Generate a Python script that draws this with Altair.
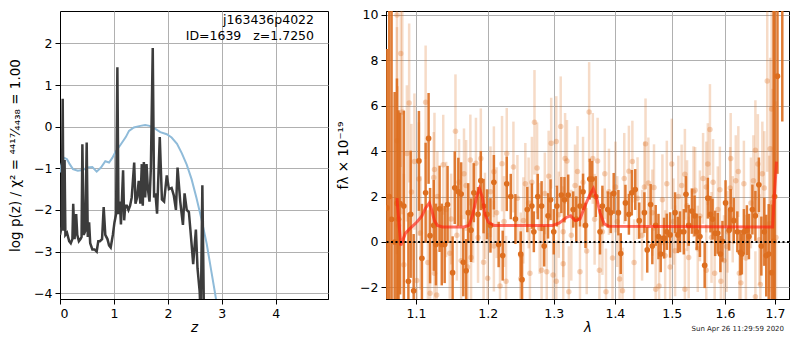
import altair as alt
import pandas as pd

FONT = "DejaVu Sans"
ORANGE = "#dd6e1f"

# ---------------- left panel: redshift PDF ----------------
pz_z = [0.00, 0.03, 0.05, 0.065, 0.085, 0.10, 0.13, 0.17, 0.20, 0.23,
        0.245, 0.27, 0.30, 0.32, 0.35, 0.38, 0.40, 0.415, 0.44, 0.47,
        0.495, 0.515, 0.54, 0.56, 0.60, 0.64, 0.68, 0.71, 0.74, 0.78,
        0.81, 0.84, 0.88, 0.91, 0.94, 0.98, 1.01, 1.04, 1.064, 1.085,
        1.11, 1.13, 1.17, 1.19, 1.21, 1.24, 1.27, 1.30, 1.33, 1.376,
        1.40, 1.43, 1.46, 1.49, 1.517, 1.535, 1.555, 1.58, 1.605, 1.63,
        1.66, 1.685, 1.72, 1.745, 1.77, 1.80, 1.85, 1.89, 1.93, 1.98,
        2.02, 2.07, 2.11, 2.15, 2.18, 2.23, 2.28, 2.31, 2.35, 2.39,
        2.43, 2.47, 2.52, 2.55, 2.59, 2.61, 2.64, 2.67]
pz_logp = [-2.6, -2.4, 0.67, -2.5, -0.8, -2.6, -2.55, -2.75, -2.8, -2.7,
           -1.85, -2.7, -2.1, -2.6, -2.75, -2.7, -2.65, -0.42, -2.6, -2.5,
           -0.38, -2.65, -2.3, -2.8, -2.95, -2.95, -3.0, -2.75, -2.75, -2.7,
           -1.93, -2.6, -2.7, -2.85, -2.9, -2.6, -2.3, -2.1, 1.43, -2.1,
           -1.8, -2.35, -1.05, -2.25, -1.9, -1.9, -2.0, -1.9, -1.7, -0.86,
           -1.85, -1.7, -1.3, -1.85, -0.9, -1.9, -0.85, -1.7, -0.9, -1.5,
           -1.8, -1.0, 1.89, -1.7, -1.6, -2.09, -0.25, -1.75, -1.8, -1.17,
           -1.5, -1.47, -1.65, -2.0, -0.98, -1.8, -2.36, -1.6, -2.0, -2.05,
           -2.66, -3.3, -2.47, -3.4, -3.96, -4.6, -1.41, -4.6]

chi_z = [0.0, 0.01, 0.05, 0.085, 0.13, 0.18, 0.24, 0.33, 0.42, 0.51,
         0.60, 0.68, 0.76, 0.84, 0.91, 0.97, 1.03, 1.12, 1.22, 1.28,
         1.37, 1.49, 1.58, 1.66, 1.74, 1.86, 1.98, 2.07, 2.17, 2.26,
         2.35, 2.44, 2.53, 2.62, 2.72, 2.81, 2.87, 2.95]
chi_val = [-1.1, -0.98, -0.8, -0.75, -0.78, -0.9, -1.02, -1.06, -1.04, -0.98,
           -0.97, -1.08, -0.98, -0.83, -0.86, -0.75, -0.6, -0.44, -0.25, -0.1,
           -0.02, 0.02, 0.04, 0.02, -0.03, -0.13, -0.18, -0.26, -0.41, -0.64,
           -0.91, -1.26, -1.71, -2.2, -2.81, -3.5, -3.96, -4.6]

z_ticks = [0, 1, 2, 3, 4]
logp_ticks = [-4, -3, -2, -1, 0, 1, 2]
annot_text = "j163436p4022\nID=1639\u00a0\u00a0\u00a0z=1.7250"

# ---------------- right panel: spectrum ----------------
dark_wave = [1.062, 1.065, 1.068, 1.072, 1.075, 1.077, 1.079, 1.084, 1.090, 1.093,
             1.097, 1.104, 1.108, 1.113, 1.117, 1.119, 1.124, 1.127, 1.132, 1.135,
             1.139, 1.143, 1.150, 1.153, 1.158, 1.162, 1.165, 1.169, 1.172, 1.176,
             1.180, 1.186, 1.190, 1.194, 1.199, 1.204, 1.209, 1.216, 1.222, 1.228,
             1.234, 1.241, 1.249, 1.251, 1.259, 1.266, 1.269, 1.275, 1.281, 1.285,
             1.291, 1.295, 1.300, 1.305, 1.312, 1.317, 1.323, 1.331, 1.336, 1.342,
             1.347, 1.351, 1.358, 1.362, 1.368, 1.375, 1.379, 1.388, 1.393, 1.398,
             1.406, 1.410, 1.418, 1.424, 1.429, 1.435, 1.442, 1.451, 1.456, 1.462,
             1.465, 1.471, 1.476, 1.480, 1.486, 1.491, 1.497, 1.506, 1.511, 1.515,
             1.522, 1.526, 1.531, 1.537, 1.542, 1.546, 1.552, 1.561, 1.567, 1.572,
             1.576, 1.581, 1.586, 1.591, 1.595, 1.601, 1.608, 1.611, 1.617, 1.624,
             1.630, 1.633, 1.637, 1.643, 1.647, 1.654, 1.660, 1.667, 1.672, 1.678,
             1.682, 1.687, 1.693, 1.697, 1.699, 1.705, 1.715]
dark_flux = [1.5, 2.0, 1.0, 0.0, 1.7, 1.0, 1.69, 1.58, -1.73, 1.22,
             -2.15, 3.57, -0.72, 2.17, 4.56, 0.28, 0.73, -0.11, 1.46, -0.11,
             -0.11, 1.65, -1.35, 2.39, 2.21, 2.11, -0.89, -1.27, 1.29, 0.52,
             2.17, 1.22, 2.70, 1.58, 1.22, 0.73, 2.63, -0.11, -0.60, 2.56,
             2.0, 1.01, -0.53, -1.66, 1.43, 1.58, 0.45, 2.0, 1.58, -0.18,
             1.15, 1.86, 0.45, 1.58, 2.07, 1.86, 2.07, 1.43, 1.01, 1.58,
             2.21, 0.73, 2.77, 2.77, 2.0, 0.45, 1.58, 1.43, 1.29, 2.14,
             1.29, -0.51, 1.72, 1.22, 2.17, 2.31, 0.94, 1.29, -0.35, 1.65,
             -0.18, 0.73, 0.24, -0.53, 0.17, 0.45, 0.31, 1.29, 0.31, 0.45,
             0.45, 2.10, 0.73, 1.36, 1.15, 0.45, 0.24, -1.03, 1.93, 1.22,
             1.01, 0.38, 0.38, -0.53, 0.03, 1.72, 0.52, 1.43, 0.94, 0.45,
             -0.46, -0.53, 0.45, 0.52, 0.24, 1.43, 1.15, 2.52, -0.18, 0.45,
             -0.60, -0.53, -1.35, 0.03, 2.0, 7.3, 12.0]
dark_err = [7.0, 10.0, 10.0, 6.6, 5.5, 4.8, 4.0, 4.2, 3.0, 2.8,
            2.5, 2.2, 2.4, 2.2, 2.0, 2.1, 2.0, 1.8, 1.9, 1.8,
            1.7, 1.7, 1.6, 1.6, 1.5, 1.4, 1.5, 1.4, 1.3, 1.4,
            1.3, 1.2, 1.3, 1.2, 1.1, 1.2, 1.2, 1.0, 1.1, 1.2,
            1.0, 1.1, 1.0, 1.1, 1.0, 1.0, 0.9, 1.0, 1.1, 0.9,
            1.0, 0.9, 1.0, 0.9, 0.8, 1.0, 0.9, 0.8, 1.0, 0.9,
            0.8, 1.0, 0.9, 0.8, 0.9, 1.0, 0.9, 0.8, 0.9, 0.9,
            1.0, 0.9, 0.8, 0.9, 1.0, 0.9, 0.8, 0.9, 1.0, 0.9,
            0.8, 0.9, 1.0, 0.8, 0.9, 0.8, 1.0, 0.9, 0.8, 0.9,
            1.0, 0.8, 0.9, 1.0, 0.9, 0.8, 0.9, 1.0, 0.9, 0.8,
            0.9, 1.0, 0.9, 0.8, 0.9, 1.0, 0.9, 0.9, 1.0, 0.9,
            1.0, 0.9, 1.0, 1.1, 1.0, 1.1, 1.1, 1.2, 1.3, 1.5,
            1.8, 2.2, 3.0, 12.0, 12.0, 4.3, 6.7]

light_wave = [1.075, 1.080, 1.075, 1.082, 1.091, 1.113, 1.088, 1.098, 1.077, 1.125,
              1.124, 1.154, 1.175, 1.190, 1.183, 1.209, 1.221, 1.228, 1.209, 1.194,
              1.171, 1.125, 1.101, 1.119, 1.128, 1.162, 1.176, 1.218, 1.227, 1.249,
              1.076, 1.104, 1.129, 1.141, 1.148, 1.159, 1.169, 1.179, 1.196, 1.204,
              1.213, 1.244, 1.270, 1.296, 1.304, 1.311, 1.318, 1.321, 1.357, 1.363,
              1.371, 1.274, 1.256, 1.266, 1.324, 1.385, 1.342, 1.374, 1.263, 1.281,
              1.289, 1.304, 1.315, 1.299, 1.408, 1.413, 1.453, 1.430, 1.424, 1.249,
              1.261, 1.334, 1.347, 1.390, 1.401, 1.439, 1.451, 1.379, 1.315, 1.286,
              1.500, 1.491, 1.524, 1.518, 1.540, 1.543, 1.571, 1.567, 1.564, 1.577,
              1.611, 1.610, 1.621, 1.637, 1.660, 1.665, 1.678, 1.684, 1.693, 1.690,
              1.695, 1.702, 1.471, 1.477, 1.497, 1.524, 1.564, 1.580, 1.592, 1.628,
              1.660, 1.670, 1.631, 1.531, 1.598, 1.465, 1.483, 1.512, 1.552, 1.586,
              1.651, 1.605, 1.506, 1.253, 1.278, 1.292, 1.308, 1.328, 1.338, 1.353,
              1.366, 1.383, 1.396, 1.404, 1.416, 1.433, 1.447, 1.458, 1.106, 1.116,
              1.137, 1.146, 1.156, 1.166, 1.186, 1.200, 1.224, 1.238, 1.094, 1.084,
              1.468, 1.488, 1.503, 1.528, 1.548, 1.558, 1.574, 1.590, 1.603, 1.615,
              1.626, 1.641, 1.656, 1.668, 1.674, 1.688]
light_flux = [9.99, 8.30, 4.46, 5.72, 6.12, 6.15, 3.90, 3.54, 0.73, 3.19,
              2.84, 4.88, 3.61, 3.68, 3.47, 3.09, 3.45, 3.90, -0.18, -0.89,
              -1.10, -1.38, -1.70, -2.26, -2.33, -0.82, -0.68, -1.94, -1.73, -1.62,
              1.86, 2.77, 2.00, 1.43, 1.01, 2.63, 2.49, 1.29, 1.15, 2.21,
              1.29, 1.93, 5.27, 4.35, 4.42, 5.09, 3.68, 3.57, 5.72, 3.68,
              3.57, 3.26, 2.56, 2.63, -2.19, -2.19, -1.31, -1.24, -1.38, -1.24,
              -1.31, -1.73, -0.96, -1.45, -1.63, -2.15, 4.32, 3.54, 3.12, -0.60,
              1.72, 2.49, 2.63, 2.21, 2.42, 1.93, 2.42, 0.45, 0.45, 2.14,
              3.43, 2.56, 2.98, 2.49, 2.21, 2.28, 4.95, 3.43, 2.42, 2.63,
              3.68, 2.38, 2.70, 2.56, 4.04, 3.43, 2.38, 7.09, 5.86, 4.11,
              1.74, 0.20, -2.08, -1.94, -1.10, -2.08, -1.24, -1.38, -1.73, -1.38,
              -2.41, -1.87, -1.80, -0.68, -0.82, 1.29, 1.86, 2.00, 1.15, 1.43,
              1.72, 0.45, -0.39, 0.95, 0.60, 2.90, 1.20, 0.30, 3.10, -0.40,
              1.00, 3.00, -0.70, 0.90, 2.80, -0.90, 0.30, 2.60, 0.40, -0.90,
              3.40, -0.50, 0.30, 3.00, 0.20, -1.60, 0.90, 3.30, 2.20, -1.00,
              2.40, -0.60, 0.90, 1.60, -0.30, 2.80, 0.20, 2.30, -0.20, 1.00,
              3.10, -0.70, 2.70, 0.10, 3.00, 0.80]
light_err = [6.0, 5.0, 5.0, 4.5, 3.5, 2.5, 3.0, 3.0, 5.0, 2.5,
             2.0, 2.5, 2.0, 2.2, 2.0, 2.0, 2.1, 2.0, 2.0, 2.0,
             2.0, 2.2, 2.5, 2.2, 2.0, 2.0, 2.0, 2.0, 2.0, 2.0,
             5.0, 2.5, 2.0, 2.1, 2.0, 1.9, 2.0, 2.2, 1.9, 2.0,
             2.0, 1.9, 2.3, 2.0, 2.0, 2.2, 2.0, 1.8, 2.2, 2.0,
             1.9, 2.0, 1.8, 2.0, 2.0, 1.9, 2.0, 1.8, 2.0, 1.9,
             2.0, 1.8, 2.0, 1.9, 2.0, 1.9, 2.0, 1.8, 2.0, 1.9,
             2.0, 1.8, 2.0, 1.9, 2.0, 1.8, 2.0, 1.9, 2.0, 1.8,
             2.0, 1.9, 2.0, 1.8, 2.0, 1.9, 2.0, 1.8, 2.0, 1.9,
             2.0, 1.8, 2.0, 1.9, 2.2, 2.2, 2.5, 4.0, 5.0, 4.0,
             5.0, 6.0, 2.0, 1.9, 2.0, 1.8, 2.0, 1.9, 2.0, 1.8,
             2.0, 1.9, 2.0, 1.8, 2.0, 1.9, 2.0, 1.8, 2.0, 1.9,
             2.0, 1.8, 2.0, 1.9, 2.0, 2.0, 1.9, 2.0, 2.0, 1.9,
             2.0, 2.0, 1.9, 2.0, 2.0, 1.9, 2.0, 2.0, 2.5, 2.3,
             2.2, 2.0, 2.0, 2.0, 2.0, 2.0, 2.0, 2.0, 3.0, 4.0,
             1.9, 2.0, 1.9, 2.0, 1.9, 2.0, 2.0, 1.9, 2.0, 1.9,
             2.0, 1.9, 2.0, 2.0, 2.3, 3.0]

model_wave = [1.075, 1.080, 1.086, 1.092, 1.101, 1.108, 1.113, 1.118, 1.121, 1.125,
              1.129, 1.136, 1.166, 1.173, 1.178, 1.184, 1.188, 1.192, 1.196, 1.201,
              1.209, 1.298, 1.309, 1.320, 1.327, 1.334, 1.342, 1.350, 1.358, 1.364,
              1.370, 1.375, 1.382, 1.390, 1.695, 1.697, 1.703]
model_flux = [1.93, -0.15, 0.38, 0.59, 0.87, 1.15, 1.5, 1.72, 1.43, 0.94,
              0.73, 0.66, 0.66, 0.73, 1.15, 2.0, 2.35, 2.0, 1.22, 0.87,
              0.73, 0.73, 0.84, 1.08, 1.15, 0.94, 1.01, 1.58, 2.07, 2.35,
              1.86, 1.29, 0.80, 0.69, 0.66, 1.5, 3.54]

wave_ticks = [1.1, 1.2, 1.3, 1.4, 1.5, 1.6, 1.7]
flux_ticks = [-2, 0, 2, 4, 6, 8, 10]
timestamp = "Sun Apr 26 11:29:59 2020"

# ---------------- build tables ----------------
pz_df = pd.DataFrame({"z": pz_z, "v": pz_logp})
chi_df = pd.DataFrame({"z": chi_z, "v": chi_val})
dark_df = pd.DataFrame({"w": dark_wave, "f": dark_flux, "e": dark_err})
dark_df["lo"] = dark_df["f"] - dark_df["e"]
dark_df["hi"] = dark_df["f"] + dark_df["e"]
light_df = pd.DataFrame({"w": light_wave, "f": light_flux, "e": light_err})
light_df["lo"] = light_df["f"] - light_df["e"]
light_df["hi"] = light_df["f"] + light_df["e"]
model_df = pd.DataFrame({"w": model_wave, "f": model_flux})

H = 288

zscale = alt.Scale(domain=[0, 4.97], nice=False, zero=False)
vscale = alt.Scale(domain=[-4.14, 2.78], nice=False, zero=False)
xz = alt.X("z:Q", scale=zscale,
           axis=alt.Axis(values=z_ticks, format="d", title="z", titleFontStyle="italic"))
yv = alt.Y("v:Q", scale=vscale,
           axis=alt.Axis(values=logp_ticks, format="d",
                         title="log p(z) / χ² = ⁴⁴¹⁷⁄₄₄₃₈ = 1.00", titlePadding=11))

blue = alt.Chart(chi_df).mark_line(color="#8fbbd9", strokeWidth=2, clip=True).encode(x=xz, y=yv)
black = alt.Chart(pz_df).mark_line(color="#3c3c3c", strokeWidth=2.5, clip=True).encode(x=xz, y=yv)
annot = alt.Chart(pd.DataFrame({"t": [annot_text]})).mark_text(
    align="right", baseline="top", fontSize=12.5, lineHeight=16, lineBreak="\n",
    font=FONT, color="black"
).encode(x=alt.value(254), y=alt.value(3), text="t:N")

left = alt.layer(blue, black, annot).properties(width=268, height=H)

wscale = alt.Scale(type="log", domain=[1.0608, 1.729], nice=False)
fscale = alt.Scale(domain=[-2.51, 10.17], nice=False, zero=False)
xw = alt.X("w:Q", scale=wscale,
           axis=alt.Axis(values=wave_ticks, format=".1f", title="λ", titleFontStyle="italic"))
yf = alt.Y("f:Q", scale=fscale,
           axis=alt.Axis(values=flux_ticks, format="d", title="fλ × 10⁻¹⁹", titlePadding=9))

light_bars = alt.Chart(light_df).mark_rule(color=ORANGE, opacity=0.25, strokeWidth=2.5, clip=True).encode(
    x=xw, y=alt.Y("lo:Q", scale=fscale), y2="hi:Q")
light_pts = alt.Chart(light_df).mark_circle(color=ORANGE, opacity=0.3, size=30, clip=True).encode(x=xw, y=yf)
dark_bars = alt.Chart(dark_df).mark_rule(color=ORANGE, opacity=0.9, strokeWidth=2.5, clip=True).encode(
    x=xw, y=alt.Y("lo:Q", scale=fscale), y2="hi:Q")
dark_pts = alt.Chart(dark_df).mark_circle(color=ORANGE, opacity=1, size=32, clip=True).encode(x=xw, y=yf)
model = alt.Chart(model_df).mark_line(color="#ff2010", opacity=0.65, strokeWidth=3, clip=True).encode(x=xw, y=yf)
zero = alt.Chart(pd.DataFrame({"f": [0]})).mark_rule(
    color="black", strokeDash=[2, 2.5], strokeWidth=2).encode(y=alt.Y("f:Q", scale=fscale))
stamp = alt.Chart(pd.DataFrame({"t": [timestamp]})).mark_text(
    align="right", baseline="middle", fontSize=7, font=FONT, color="#222222"
).encode(x=alt.value(398), y=alt.value(H + 30), text="t:N")

right = alt.layer(light_bars, light_pts, dark_bars, dark_pts, model, zero, stamp).properties(
    width=403, height=H)

chart = alt.hconcat(left, right, spacing=58, bounds="flush").properties(
    padding={"left": 0, "top": 0, "right": 0, "bottom": 0}
).configure_view(
    stroke="black", strokeWidth=1
).configure_axis(
    labelFont=FONT, titleFont=FONT, labelFontSize=12.5, titleFontSize=13.5,
    labelColor="black", titleColor="black", titleFontWeight="normal",
    domainColor="black", tickColor="black", tickSize=5, labelPadding=3,
    gridColor="#b0b0b0", gridWidth=1, gridOpacity=1
).configure_axisX(
    titlePadding=1
)

chart.save("out.html", embed_options={"renderer": "svg", "actions": False})
